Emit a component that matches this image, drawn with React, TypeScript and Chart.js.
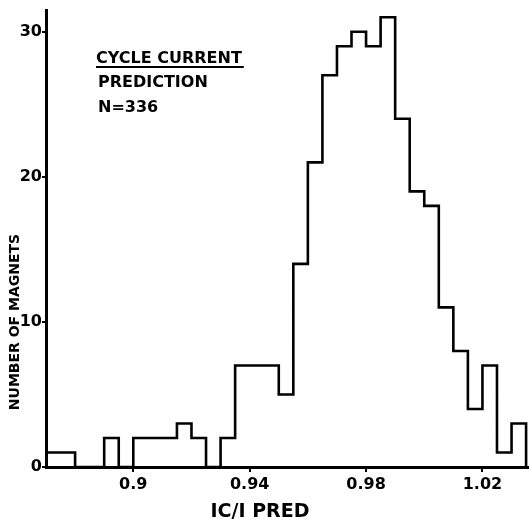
import React, { useEffect, useRef } from "react";
import { Chart, registerables } from "chart.js";

Chart.register(...registerables);

// Histogram bin left edges (plus the final right edge), IC/I PRED
const binEdges = [
  0.870, 0.875, 0.880, 0.885, 0.890, 0.895, 0.900, 0.905, 0.910, 0.915,
  0.920, 0.925, 0.930, 0.935, 0.940, 0.945, 0.950, 0.955, 0.960, 0.965,
  0.970, 0.975, 0.980, 0.985, 0.990, 0.995, 1.000, 1.005, 1.010, 1.015,
  1.020, 1.025, 1.030, 1.035,
];
// Number of magnets in each bin
const counts = [
  1, 1, 0, 0, 2, 0, 2, 2, 2, 3,
  2, 0, 2, 7, 7, 7, 5, 14, 21, 27,
  29, 30, 29, 31, 24, 19, 18, 11, 8, 4,
  7, 1, 3,
];
const xTicks = [0.9, 0.94, 0.98, 1.02];
const xTickLabels = ["0.9", "0.94", "0.98", "1.02"];
const yTicks = [0, 10, 20, 30];
const yTickLabels = ["0", "10", "20", "30"];
const xTitle = "IC/I PRED";
const yTitle = "NUMBER OF MAGNETS";
const noteLines = ["CYCLE CURRENT", "PREDICTION", "N=336"];

const FONT = "'DejaVu Sans', 'Liberation Sans', Arial, sans-serif";

const textPlugin = {
  id: "textPlugin",
  afterDraw(chart: any) {
    const ctx = chart.ctx as CanvasRenderingContext2D;
    ctx.save();
    ctx.fillStyle = "#000";
    // x title
    ctx.font = `bold 19px ${FONT}`;
    ctx.textAlign = "center";
    ctx.textBaseline = "middle";
    ctx.fillText(xTitle, 260, 512);
    // y title
    ctx.save();
    ctx.translate(15, 322);
    ctx.rotate(-Math.PI / 2);
    ctx.font = `bold 14px ${FONT}`;
    ctx.fillText(yTitle, 0, 0);
    ctx.restore();
    // note
    ctx.textAlign = "left";
    ctx.textBaseline = "alphabetic";
    ctx.font = `bold 16px ${FONT}`;
    const x0 = 96;
    ctx.fillText(noteLines[0], x0, 63);
    const w = ctx.measureText(noteLines[0]).width;
    ctx.fillRect(x0, 66, w + 2, 2);
    ctx.fillText(noteLines[1], x0 + 2, 87);
    ctx.fillText(noteLines[2], x0 + 2, 112);
    ctx.restore();
  },
};

export default function App() {
  const ref = useRef<HTMLCanvasElement>(null);
  useEffect(() => {
    document.body.style.margin = "0";
    const points = binEdges.map((e, i) => ({ x: e, y: i < counts.length ? counts[i] : 0 }));
    const chart = new Chart(ref.current!, {
      type: "line",
      data: {
        datasets: [
          {
            data: points,
            stepped: "before",
            borderColor: "#000",
            borderWidth: 2.6,
            pointRadius: 0,
            fill: false,
            clip: false as any,
          },
        ],
      },
      options: {
        animation: false,
        responsive: false,
        layout: { padding: { top: 10, right: 0, left: 0, bottom: 0 } },
        plugins: { legend: { display: false }, tooltip: { enabled: false } },
        scales: {
          x: {
            type: "linear",
            min: 0.87,
            max: 1.036,
            afterFit(scale: any) {
              scale.height = 54;
            },
            afterBuildTicks(scale: any) {
              scale.ticks = xTicks.map((v) => ({ value: v }));
            },
            ticks: {
              color: "#000",
              font: { family: FONT, size: 16, weight: "bold" },
              padding: 3,
              maxRotation: 0,
              callback: (v: any) => {
                const i = xTicks.findIndex((t) => Math.abs(t - Number(v)) < 1e-9);
                return i >= 0 ? xTickLabels[i] : "";
              },
            },
            grid: {
              drawOnChartArea: false,
              drawTicks: true,
              tickLength: 5,
              color: "#000",
              lineWidth: 2,
            },
            border: { display: true, color: "#000", width: 3 },
          },
          y: {
            type: "linear",
            min: 0,
            max: 31.5,
            afterFit(scale: any) {
              scale.width = 46;
            },
            afterBuildTicks(scale: any) {
              scale.ticks = yTicks.map((v) => ({ value: v }));
            },
            ticks: {
              color: "#000",
              font: { family: FONT, size: 16, weight: "bold" },
              padding: 0,
              callback: (v: any) => {
                const i = yTicks.findIndex((t) => t === Number(v));
                return i >= 0 ? yTickLabels[i] : "";
              },
            },
            grid: {
              drawOnChartArea: false,
              drawTicks: true,
              tickLength: 4,
              color: "#000",
              lineWidth: 2,
            },
            border: { display: true, color: "#000", width: 3 },
          },
        },
      },
      plugins: [textPlugin],
    });
    return () => chart.destroy();
  }, []);
  return (
    <div style={{ position: "absolute", left: 0, top: 0, width: 529, height: 521, background: "#fff" }}>
      <canvas ref={ref} width={529} height={521} />
    </div>
  );
}
